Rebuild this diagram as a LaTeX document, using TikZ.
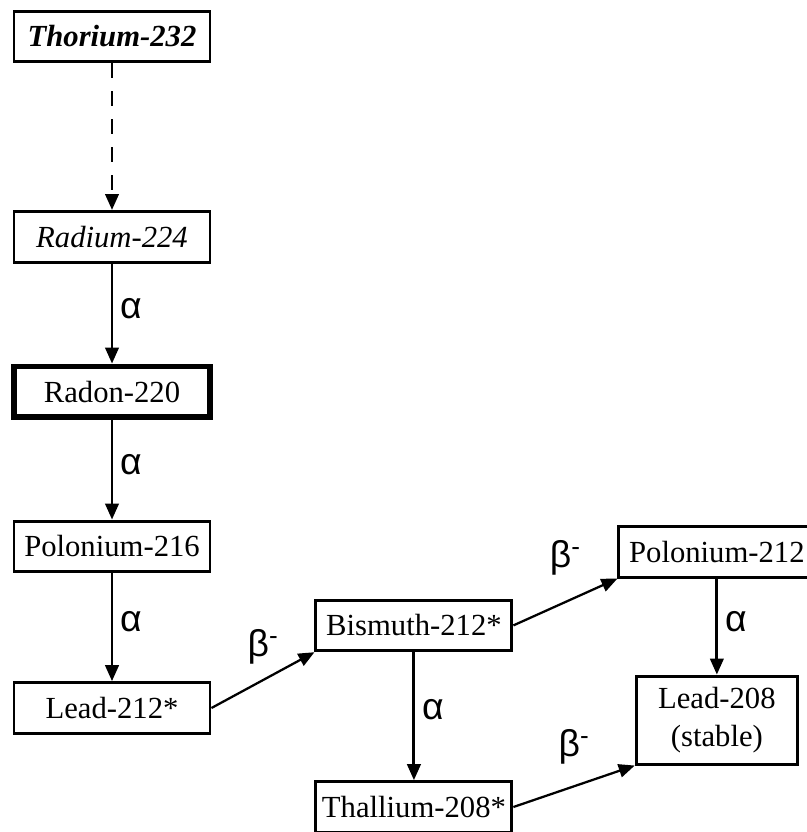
\documentclass[tikz,border=0pt]{standalone}
\usepackage{fontspec}
\setmainfont{Liberation Serif}
\newfontfamily\greekfont{Liberation Sans}
\usetikzlibrary{arrows.meta,positioning}

\begin{document}
\begin{tikzpicture}[>={Triangle[length=12pt,width=10pt]}, line width=2.2pt, node distance=75pt,
    nuclide/.style={draw, rectangle, align=center, minimum width=147pt, minimum height=38pt, inner sep=2pt, font=\fontsize{23}{28}\selectfont},
    decay/.style={inner sep=5pt, font=\greekfont\fontsize{28}{32}\selectfont}]
    \path[use as bounding box, clip] (0,0) rectangle (605.25pt,-624pt);

    % Main chain
    \node (Thorium232) [nuclide, font=\fontsize{23}{28}\selectfont\bfseries\itshape] at (84pt,-27.4pt) {Thorium-232};
    \node (Radium224) [below=110pt of Thorium232, nuclide, font=\fontsize{23}{28}\selectfont\itshape] {Radium-224};
    \node (Radon220) [below=of Radium224, nuclide, line width=4pt] {Radon-220};
    \node (Polonium216) [below=of Radon220, nuclide] {Polonium-216};
    \node (Lead212) [below=81pt of Polonium216, nuclide] {Lead-212*};

    % Branches
    \node (Bismuth212) [above right=21.75pt and 77.25pt of Lead212, nuclide] {Bismuth-212*};
    \node (Thallium208) [below=96pt of Bismuth212, nuclide] {Thallium-208*};
    \node (Polonium212) [above right=15pt and 78pt of Bismuth212, nuclide] {Polonium-212};
    \node (Lead208) [below=72pt of Polonium212, nuclide, minimum width=121pt, minimum height=66pt] {Lead-208\\(stable)};

    % Arrows and labels
    \draw[->, dash pattern=on 11pt off 10pt] (Thorium232) -- (Radium224);
    \draw[->] (Radium224) -- node[decay, right, pos=0.45] {α} (Radon220);
    \draw[->] (Radon220) -- node[decay, right, pos=0.45] {α} (Polonium216);
    \draw[->] (Polonium216) -- node[decay, right, pos=0.45] {α} (Lead212);
    \draw[->] (Bismuth212) -- node[decay, right, pos=0.45] {α} (Thallium208);
    \draw[->] (Polonium212) -- node[decay, right, pos=0.45] {α} (Lead208);

    \draw[->, line width=1.7pt] (Lead212.east) -- node[decay, above=6pt] {β\textsuperscript{-}} (Bismuth212.south west);
    \draw[->, line width=1.7pt] (Bismuth212.east) -- node[decay, above=14pt] {β\textsuperscript{-}} (Polonium212.south west);
    \draw[->, line width=1.7pt] (Thallium208.east) -- node[decay, above=11pt] {β\textsuperscript{-}} (Lead208.south west);

\end{tikzpicture}
\end{document}
